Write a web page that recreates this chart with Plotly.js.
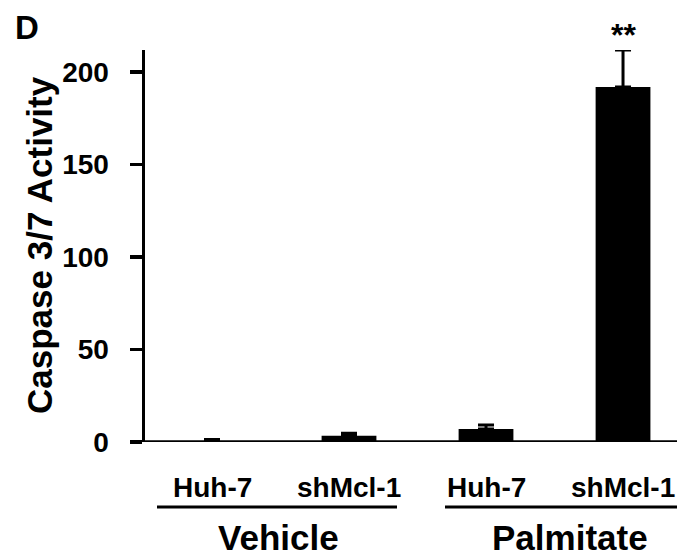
<!DOCTYPE html>
<html><head><meta charset="utf-8">
<script src="https://cdn.plot.ly/plotly-3.0.1.min.js"></script>
<style>html,body{margin:0;padding:0;background:#fff;}</style>
</head><body>
<div id="chart" style="width:677px;height:559px;"></div>
<script>
const categories = ["Vehicle Huh-7", "Vehicle shMcl-1", "Palmitate Huh-7", "Palmitate shMcl-1"];
const cellLabels = ["Huh-7", "shMcl-1", "Huh-7", "shMcl-1"];
const groups = ["Vehicle", "Palmitate"];
const values = [0.5, 3.4, 7.0, 192];
const errors = [0.8, 1.3, 2.2, 20];
const yTicks = [0, 50, 100, 150, 200];
const significance = ["", "", "", "**"];

const L = 145, W = 532, T = 50, H = 392;
const px = x => (x - L) / W;
const py = y => 1 - (y - T) / H;

const font = {family: "Liberation Sans, Arial, sans-serif", color: "#000"};
const annotations = [];
categories.forEach((c, i) => {
  annotations.push({text: "<b>" + cellLabels[i] + "</b>", xref: "x", yref: "paper",
    x: c, y: py(487), xanchor: "center", yanchor: "middle", showarrow: false,
    font: Object.assign({size: 28}, font)});
  if (significance[i]) annotations.push({text: "<b>" + significance[i] + "</b>", xref: "x", yref: "paper",
    x: c, y: py(35), xanchor: "center", yanchor: "middle", showarrow: false,
    font: Object.assign({size: 32}, font)});
});
const groupX = [278, 570];
groups.forEach((g, i) => annotations.push({text: "<b>" + g + "</b>", xref: "paper", yref: "paper",
  x: px(groupX[i]), y: py(537), xanchor: "center", yanchor: "middle", showarrow: false,
  font: Object.assign({size: 35}, font)}));
annotations.push({text: "<b>D</b>", xref: "paper", yref: "paper", x: px(27), y: py(27),
  xanchor: "center", yanchor: "middle", showarrow: false, font: Object.assign({size: 33}, font)});
annotations.push({text: "<b>Caspase 3/7 Activity</b>", xref: "paper", yref: "paper", x: px(39), y: py(245),
  xanchor: "center", yanchor: "middle", textangle: -90, showarrow: false, font: Object.assign({size: 35}, font)});

const shapes = [
  {type: "line", xref: "paper", yref: "paper", x0: px(157), x1: px(397), y0: py(507), y1: py(507), line: {color: "#000", width: 3}},
  {type: "line", xref: "paper", yref: "paper", x0: px(445), x1: px(680), y0: py(507), y1: py(507), line: {color: "#000", width: 3}},
  {type: "line", xref: "paper", yref: "y", x0: px(132), x1: 1.01, y0: 0, y1: 0, line: {color: "#000", width: 3.5}}
];

const trace = {
  type: "bar", x: categories, y: values, width: 0.4,
  marker: {color: "#000", line: {width: 0}},
  error_y: {type: "data", array: errors, symmetric: false, arrayminus: errors.map(() => 0), color: "#000", thickness: 3, width: 8},
  hoverinfo: "none"
};

const layout = {
  width: 677, height: 559,
  margin: {l: L, r: 677 - L - W, t: T, b: 559 - T - H, pad: 0},
  paper_bgcolor: "#fff", plot_bgcolor: "#fff",
  showlegend: false,
  xaxis: {type: "category", range: [-0.489, 3.394], showticklabels: false, ticks: "", showline: false, showgrid: false, zeroline: false, fixedrange: true},
  yaxis: {range: [0, 212], tickvals: yTicks, ticktext: yTicks.map(v => "<b>" + v + "</b>"),
    ticks: "outside", ticklen: 12, tickwidth: 3.5, tickcolor: "#000", ticklabelstandoff: 15,
    showline: true, linewidth: 3.5, linecolor: "#000", showgrid: false, zeroline: false,
    tickfont: Object.assign({size: 28}, font)},
  annotations, shapes
};
Plotly.newPlot("chart", [trace], layout, {displayModeBar: false, staticPlot: true});
</script>
</body></html>
